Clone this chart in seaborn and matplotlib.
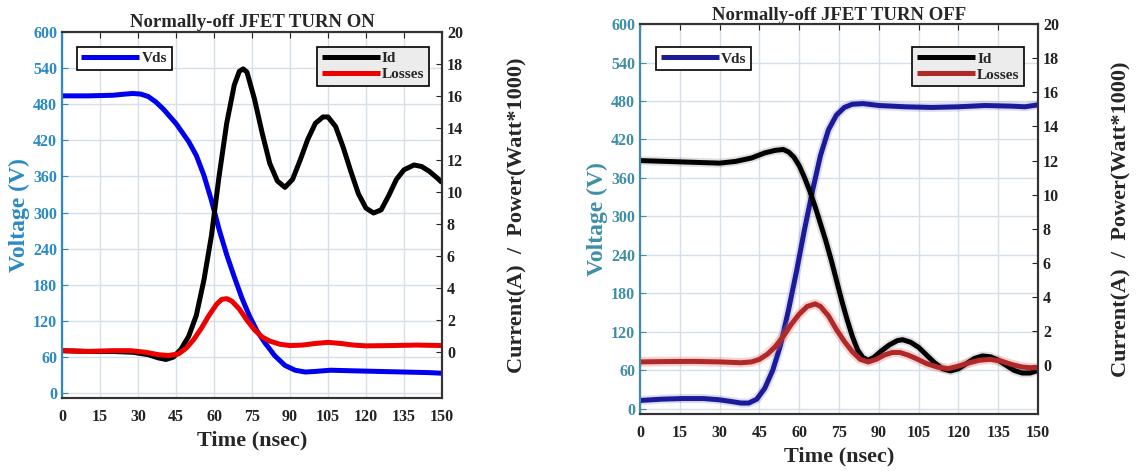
import numpy as np
import pandas as pd
import matplotlib
matplotlib.use("Agg")
import matplotlib.pyplot as plt
import seaborn as sns

# ---------------- data ----------------
# turn on
on_t_vds = [0, 10, 20, 25, 28, 31, 34, 37, 40, 45, 50, 53, 56, 59, 62, 65, 68, 71, 74, 77, 80, 84, 88, 92, 96, 100, 106, 115, 125, 135, 145, 150]
on_vds = [494, 494, 495, 497, 498, 497, 493, 484, 472, 448, 418, 395, 362, 320, 272, 230, 193, 158, 128, 103, 84, 62, 46, 38, 35, 36, 38, 37, 36, 35, 34, 33]

on_t_id = [0, 10, 20, 28, 34, 38, 41, 44, 47, 50, 53, 56, 59, 62, 65, 68, 70, 71.5, 73, 76, 79, 82, 85, 88, 91, 94, 97, 100, 103, 105,
           108, 111, 114, 117, 120, 123, 126, 129, 132, 135, 139, 142, 145, 148, 150]
on_id = [0.1, 0.05, 0.05, 0.0, -0.15, -0.35, -0.45, -0.3, 0.2, 1.0, 2.3, 4.5, 7.3, 11.0, 14.3, 16.7, 17.55, 17.7, 17.5, 15.8, 13.7, 11.8,
         10.7, 10.3, 10.8, 12.0, 13.3, 14.3, 14.7, 14.7, 14.1, 12.8, 11.3, 9.9, 9.0, 8.7, 8.9, 9.8, 10.8, 11.4, 11.7, 11.6, 11.3, 10.9, 10.6]

on_t_loss = [0, 10, 20, 27, 33, 38, 42, 46, 49, 52, 55, 58, 61, 63, 65, 67, 70, 73, 76, 79, 82, 86, 90, 95, 100, 105, 110, 115,
             120, 130, 140, 150]
on_loss = [0.1, 0.05, 0.1, 0.1, 0.0, -0.15, -0.2, -0.1, 0.25, 0.8, 1.5, 2.3, 3.0, 3.3, 3.35, 3.2, 2.7, 2.0, 1.4, 0.95, 0.7, 0.5,
           0.42, 0.45, 0.55, 0.62, 0.55, 0.45, 0.4, 0.42, 0.45, 0.42]

# turn off
off_t_vds = [0, 8, 16, 24, 30, 35, 38, 41, 44, 47, 50, 53, 56, 59, 62, 65, 68, 71, 74, 77, 80, 84, 90, 100, 110, 120, 130, 140, 145, 150]
off_vds = [13, 15, 16, 16, 14, 11, 9, 9, 15, 32, 60, 100, 155, 215, 280, 340, 395, 435, 458, 470, 475, 476, 473, 471, 470, 471,
           473, 472, 471, 474]

off_t_id = [0, 10, 20, 30, 36, 42, 47, 51, 54, 56, 58, 60, 62, 64, 66, 68, 70, 72, 74, 76, 78, 80, 82, 84, 86, 88, 91, 94, 97, 99,
            102, 105, 108, 111, 114, 117, 120, 123, 126, 129, 132, 135, 138, 141, 144, 147, 150]
off_id = [12.0, 11.95, 11.9, 11.85, 11.95, 12.15, 12.45, 12.6, 12.65, 12.5, 12.2, 11.7, 11.0, 10.2, 9.3, 8.3, 7.3, 6.2, 5.0, 3.8,
          2.7, 1.7, 0.9, 0.45, 0.3, 0.45, 0.85, 1.2, 1.45, 1.5, 1.35, 1.05, 0.6, 0.15, -0.2, -0.33, -0.2, 0.1, 0.4, 0.55, 0.5, 0.3,
          0.0, -0.3, -0.45, -0.45, -0.3]

off_t_loss = [0, 10, 20, 30, 38, 42, 45, 48, 51, 54, 57, 60, 63, 66, 68, 71, 74, 77, 80, 83, 86, 89, 92, 95, 98, 101, 104, 108,
              112, 116, 120, 124, 128, 132, 136, 140, 144, 148, 150]
off_loss = [0.2, 0.22, 0.23, 0.2, 0.15, 0.2, 0.35, 0.65, 1.1, 1.7, 2.4, 3.0, 3.45, 3.6, 3.45, 2.9, 2.1, 1.4, 0.8, 0.35, 0.2, 0.35,
            0.6, 0.75, 0.75, 0.6, 0.4, 0.1, -0.1, -0.2, -0.05, 0.15, 0.3, 0.35, 0.25, 0.05, -0.1, -0.15, -0.15]

x_ticks = list(range(0, 151, 15))
v_ticks = list(range(0, 601, 60))
i_ticks = list(range(0, 21, 2))

# ---------------- style ----------------
sns.set_style("white")
plt.rcParams['font.family'] = ['Liberation Serif', 'DejaVu Serif']
plt.rcParams['font.weight'] = 'bold'
plt.rcParams['axes.labelweight'] = 'bold'
plt.rcParams['axes.titleweight'] = 'bold'
plt.rcParams['lines.solid_joinstyle'] = 'round'
plt.rcParams['lines.solid_capstyle'] = 'butt'

fig = plt.figure(figsize=(11.36, 4.72), dpi=100)


def panel(rect, title, tpad, vcol, tv, v, ti, i, tl, l, c_vds, c_id, c_loss, glow, vleg, ileg, rpad):
    ax = fig.add_axes(rect)
    ax2 = ax.twinx()
    if glow:
        sns.lineplot(x=tv, y=v, ax=ax, color=c_vds, lw=6.5, alpha=0.15, legend=False)
    sns.lineplot(x=tv, y=v, ax=ax, color=c_vds, lw=3.6, label="Vds")
    if glow:
        sns.lineplot(x=ti, y=i, ax=ax2, color=c_id, lw=6.5, alpha=0.12, legend=False)
        sns.lineplot(x=tl, y=l, ax=ax2, color="#e07070", lw=7, alpha=0.3, legend=False)
    sns.lineplot(x=ti, y=i, ax=ax2, color=c_id, lw=3.6, label="Id")
    sns.lineplot(x=tl, y=l, ax=ax2, color=c_loss, lw=3.6, label="Losses")

    ax.set_xlim(0, 150)
    ax.set_ylim(-8, 600)
    ax2.set_ylim(-2.85, 20)
    ax.set_xticks(x_ticks)
    ax.set_yticks(v_ticks)
    ax2.set_yticks(i_ticks)
    ax.grid(True, color="#d5dfe9", lw=1.0)
    ax.set_axisbelow(True)

    ax.tick_params(axis='x', direction='in', top=True, length=4, labelsize=11.5, colors='#222222', pad=8)
    ax.tick_params(axis='y', direction='in', length=4, labelsize=11.5, colors=vcol)
    ax2.tick_params(axis='y', direction='in', length=4, labelsize=11.5, colors='#222222')
    for lab in ax.get_xticklabels() + ax.get_yticklabels() + ax2.get_yticklabels():
        lab.set_fontweight('bold')

    for s in ['top', 'bottom']:
        ax.spines[s].set_color('#333333')
        ax2.spines[s].set_color('#333333')
    ax2.spines['left'].set_color(vcol)
    ax2.spines['right'].set_color('#333333')
    for a in (ax, ax2):
        for s in a.spines.values():
            s.set_linewidth(1.5)

    ax.set_title(title, fontsize=13.5, fontweight='bold', pad=tpad)
    ax.set_xlabel("Time (nsec)", fontsize=16, fontweight='bold', labelpad=4)
    ax.set_ylabel("Voltage (V)", fontsize=17, fontweight='bold', color=vcol, labelpad=2)
    ax2.set_ylabel("Current(A)  /  Power(Watt*1000)", fontsize=16, fontweight='bold', labelpad=rpad)

    lg1 = ax.legend(loc='upper left', bbox_to_anchor=vleg, borderaxespad=0, fancybox=False, framealpha=1,
                    edgecolor='black', handlelength=3.8, fontsize=11, borderpad=0.3, handletextpad=0.15)
    lg1.get_frame().set_linewidth(1.2)
    lg2 = ax2.legend(loc='upper right', bbox_to_anchor=ileg, borderaxespad=0, fancybox=False, framealpha=1,
                     edgecolor='black', facecolor='#ececec', handlelength=3.8, fontsize=11, borderpad=0.3,
                     handletextpad=0.15, labelspacing=0.15)
    lg2.get_frame().set_linewidth(1.2)
    return ax, ax2


panel([0.0546, 0.157, 0.3345, 0.775], "Normally-off JFET TURN ON", 4, "#2a8ac4",
      on_t_vds, on_vds, on_t_id, on_id, on_t_loss, on_loss,
      "#0000ee", "black", "#ee0000", False, (0.039, 0.96), (0.966, 0.96), 32)

panel([0.5634, 0.123, 0.3504, 0.826], "Normally-off JFET TURN OFF", 0, "#3f8ea8",
      off_t_vds, off_vds, off_t_id, off_id, off_t_loss, off_loss,
      "#1a1a9a", "black", "#b02828", True, (0.04, 0.94), (0.965, 0.94), 38)

fig.savefig("out.png", dpi=100)
